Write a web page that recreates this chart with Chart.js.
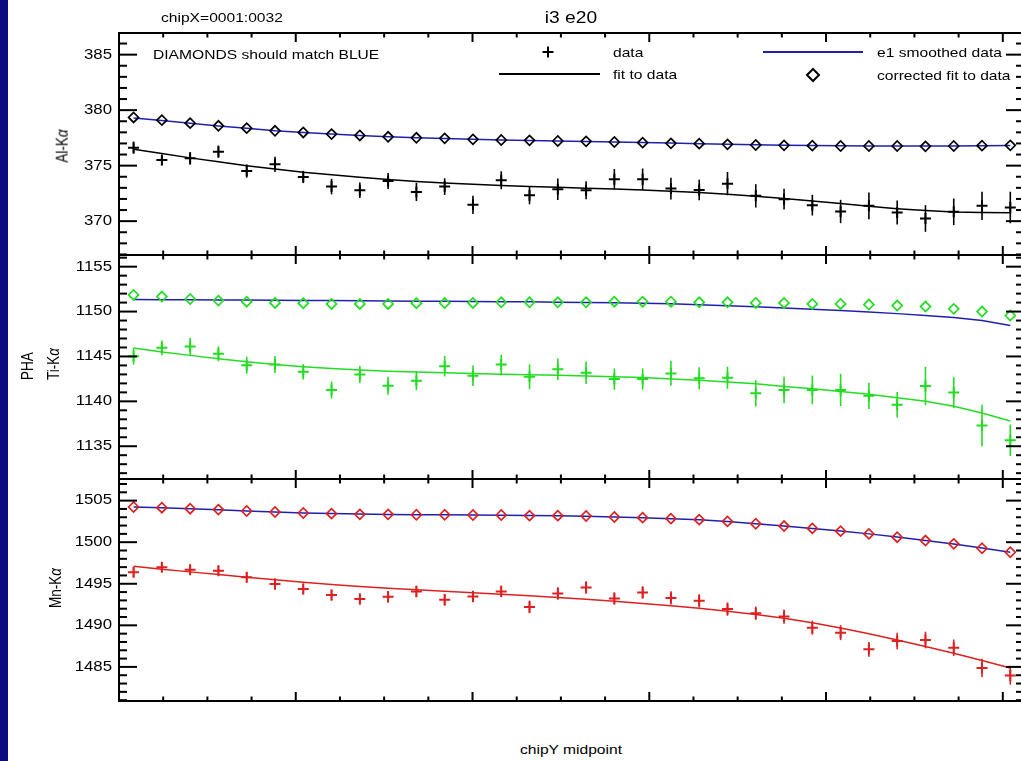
<!DOCTYPE html>
<html>
<head>
<meta charset="utf-8">
<script src="https://cdn.jsdelivr.net/npm/chart.js@4.4.1/dist/chart.umd.min.js"></script>
<style>
  body { margin: 0; background: #fff; }
  #wrap { position: relative; width: 1021px; height: 761px; overflow: hidden; background: #fff;
          font-family: "Liberation Sans", Arial, Helvetica, sans-serif; color: #000; }
  #wrap canvas { position: absolute; left: 0; }
  .band { position: absolute; left: 0; top: 0; width: 8px; height: 761px; background: #0c0c7e; }
  .t { position: absolute; white-space: nowrap; line-height: 1; font-size: 13px;
       transform-origin: left center; transform: translateY(-50%) scaleX(1.2); z-index: 5; }
  .c { transform-origin: center center; transform: translate(-50%, -50%) scaleX(1.2); }
  .v { transform-origin: center center; transform: translate(-50%, -50%) rotate(-90deg) scaleY(1.2);
       font-size: 13.5px; }
</style>
</head>
<body>
<div id="wrap">
  <canvas id="pAl" width="1024" height="242" style="top:23px"></canvas>
  <canvas id="pTi" width="1024" height="244" style="top:245px"></canvas>
  <canvas id="pMn" width="1024" height="242" style="top:469px"></canvas>
  <div class="band"></div>

  <div class="t" style="left:161px; top:17px">chipX=0001:0032</div>
  <div class="t c" style="left:571px; top:18px; font-size:16px">i3 e20</div>
  <div class="t" style="left:153px; top:54px">DIAMONDS should match BLUE</div>
  <div class="t" style="left:613px; top:52px">data</div>
  <div class="t" style="left:613px; top:74px">fit to data</div>
  <div class="t" style="left:877px; top:52px">e1 smoothed data</div>
  <div class="t" style="left:877px; top:75px">corrected fit to data</div>
  <div class="t v" style="left:63px; top:146px">Al-K<i>α</i></div>
  <div class="t v" style="left:28px; top:366px">PHA</div>
  <div class="t v" style="left:54px; top:364px">Ti-K<i>α</i></div>
  <div class="t v" style="left:56px; top:588px">Mn-K<i>α</i></div>
  <div class="t c" style="left:571px; top:749px">chipY midpoint</div>
</div>

<script>
// chipY midpoints of the 32 row bins
const chipY = [16.5, 48.5, 80.5, 112.5, 144.5, 176.5, 208.5, 240.5, 272.5, 304.5, 336.5, 368.5,
  400.5, 432.5, 464.5, 496.5, 528.5, 560.5, 592.5, 624.5, 656.5, 688.5, 720.5, 752.5,
  784.5, 816.5, 848.5, 880.5, 912.5, 944.5, 976.5, 1008.5];

// Al-K alpha
const alData = [376.62, 375.51, 375.66, 376.26, 374.52, 375.12, 373.98, 373.11, 372.78, 373.62, 372.63, 373.11,
  371.47, 373.68, 372.34, 372.87, 372.78, 373.77, 373.77, 372.93, 372.81, 373.38, 372.28, 371.98,
  371.44, 370.87, 371.38, 370.78, 370.24, 370.84, 371.38, 371.23];
const alErr = [0.55, 0.48, 0.57, 0.55, 0.6, 0.69, 0.55, 0.7, 0.7, 0.72, 0.82, 0.75, 0.82, 0.81, 0.82, 0.97,
  0.81, 0.93, 0.97, 0.97, 0.93, 1.05, 1.05, 0.93, 0.93, 1.05, 1.2, 1.08, 1.2, 1.2, 1.27, 1.42];
const alFit = [376.47, 376.1, 375.7, 375.35, 375.0, 374.7, 374.4, 374.18, 373.95, 373.75, 373.58, 373.43,
  373.32, 373.22, 373.13, 373.05, 372.97, 372.89, 372.8, 372.7, 372.58, 372.43, 372.25, 372.05,
  371.82, 371.58, 371.34, 371.12, 370.95, 370.83, 370.77, 370.75];
const alCorr = [379.34, 379.1, 378.83, 378.59, 378.38, 378.14, 377.99, 377.84, 377.72, 377.6, 377.51, 377.46,
  377.37, 377.31, 377.28, 377.22, 377.19, 377.13, 377.07, 377.01, 376.98, 376.92, 376.86, 376.83,
  376.8, 376.77, 376.77, 376.77, 376.74, 376.77, 376.8, 376.83];
const alSmooth = [379.3, 379.07, 378.82, 378.58, 378.37, 378.15, 377.99, 377.85, 377.72, 377.61, 377.52, 377.45,
  377.37, 377.31, 377.27, 377.22, 377.18, 377.13, 377.08, 377.03, 376.98, 376.93, 376.88, 376.84,
  376.81, 376.79, 376.77, 376.76, 376.76, 376.77, 376.79, 376.82];

// Ti-K alpha
const tiData = [1145.01, 1145.96, 1146.11, 1145.3, 1144.02, 1144.1, 1143.29, 1141.27, 1142.99, 1141.74, 1142.3, 1143.91,
  1142.85, 1144.1, 1142.74, 1143.58, 1143.18, 1142.48, 1142.48, 1143.11, 1142.56, 1142.63, 1140.9, 1141.27,
  1141.27, 1141.27, 1140.61, 1139.62, 1141.71, 1140.98, 1137.31, 1135.66];
const tiErr = [0.92, 0.83, 0.97, 0.83, 0.94, 0.95, 0.86, 0.95, 0.95, 1.0, 1.05, 1.14, 1.14, 1.1, 1.38, 1.19,
  1.25, 1.19, 1.19, 1.38, 1.23, 1.23, 1.47, 1.47, 1.6, 1.8, 1.47, 1.43, 2.13, 1.72, 2.3, 1.74];
const tiFit = [1145.93, 1145.5, 1145.12, 1144.75, 1144.4, 1144.1, 1143.85, 1143.65, 1143.48, 1143.36, 1143.27, 1143.18,
  1143.1, 1143.03, 1142.97, 1142.9, 1142.83, 1142.75, 1142.65, 1142.5, 1142.35, 1142.15, 1141.95, 1141.65,
  1141.4, 1141.1, 1140.8, 1140.4, 1140.0, 1139.45, 1138.7, 1137.8];
const tiCorr = [1151.85, 1151.67, 1151.4, 1151.22, 1151.1, 1150.96, 1150.93, 1150.85, 1150.85, 1150.85, 1150.93, 1150.95,
  1150.96, 1151.03, 1151.03, 1151.03, 1151.03, 1151.1, 1151.1, 1151.1, 1151.03, 1151.03, 1150.96, 1150.96,
  1150.85, 1150.85, 1150.78, 1150.67, 1150.56, 1150.3, 1150.0, 1149.56];
const tiSmooth = [1151.33, 1151.32, 1151.31, 1151.3, 1151.28, 1151.26, 1151.24, 1151.22, 1151.2, 1151.18, 1151.16, 1151.14,
  1151.12, 1151.1, 1151.08, 1151.05, 1151.02, 1150.98, 1150.93, 1150.86, 1150.77, 1150.66, 1150.54, 1150.4,
  1150.26, 1150.11, 1149.95, 1149.77, 1149.57, 1149.33, 1149.0, 1148.45];

// Mn-K alpha
const mnData = [1496.37, 1496.98, 1496.7, 1496.58, 1495.77, 1494.97, 1494.37, 1493.64, 1493.16, 1493.43, 1494.08, 1493.07,
  1493.47, 1494.08, 1492.22, 1493.83, 1494.56, 1493.23, 1493.95, 1493.3, 1492.95, 1491.95, 1491.46, 1491.05,
  1489.72, 1489.12, 1487.11, 1488.11, 1488.23, 1487.3, 1484.88, 1483.97];
const mnErr = [0.6, 0.55, 0.6, 0.6, 0.6, 0.65, 0.65, 0.65, 0.65, 0.7, 0.7, 0.7, 0.7, 0.7, 0.75, 0.75,
  0.75, 0.75, 0.75, 0.8, 0.8, 0.8, 0.8, 0.85, 0.85, 0.9, 0.9, 1.0, 1.0, 1.0, 1.1, 1.1];
const mnFit = [1497.1, 1496.76, 1496.43, 1496.1, 1495.78, 1495.47, 1495.18, 1494.91, 1494.67, 1494.46, 1494.27, 1494.09,
  1493.92, 1493.74, 1493.55, 1493.35, 1493.13, 1492.9, 1492.64, 1492.35, 1492.05, 1491.7, 1491.3, 1490.84,
  1490.3, 1489.68, 1488.98, 1488.24, 1487.46, 1486.64, 1485.78, 1484.88];
const mnCorr = [1504.23, 1504.15, 1504.03, 1503.92, 1503.75, 1503.63, 1503.51, 1503.43, 1503.35, 1503.35, 1503.3, 1503.3,
  1503.27, 1503.27, 1503.19, 1503.19, 1503.15, 1503.03, 1502.95, 1502.83, 1502.71, 1502.5, 1502.22, 1501.94,
  1501.66, 1501.33, 1501.0, 1500.6, 1500.2, 1499.8, 1499.27, 1498.79];
const mnSmooth = [1504.22, 1504.14, 1504.03, 1503.91, 1503.76, 1503.63, 1503.52, 1503.44, 1503.38, 1503.34, 1503.31, 1503.29,
  1503.27, 1503.25, 1503.22, 1503.18, 1503.12, 1503.04, 1502.95, 1502.83, 1502.69, 1502.49, 1502.23, 1501.95,
  1501.66, 1501.34, 1501.0, 1500.61, 1500.21, 1499.79, 1499.3, 1498.8];

// y-axis tick labels and ranges of the three panels
const alTicks = [370, 375, 380, 385];
const tiTicks = [1135, 1140, 1145, 1150, 1155];
const mnTicks = [1485, 1490, 1495, 1500, 1505];
const alRange = [366.95, 386.95];
const tiRange = [1131.35, 1156.3];
const mnRange = [1480.9, 1507.6];

const BLUE = '#2020b0';
const PAD = 10;

const pts = (ys) => chipY.map((x, i) => ({ x, y: ys[i] }));

function line(ctx, x1, y1, x2, y2) {
  ctx.beginPath(); ctx.moveTo(x1, y1); ctx.lineTo(x2, y2); ctx.stroke();
}

// box with inward ticks (IDL style) and y tick labels
const frame = {
  id: 'frame',
  afterDraw(chart, args, opts) {
    const { ctx, chartArea: a, scales: { x, y } } = chart;
    ctx.save();
    ctx.strokeStyle = '#000';
    ctx.lineWidth = 2;
    ctx.strokeRect(a.left, a.top, a.right - a.left, a.bottom - a.top);
    for (let v = Math.ceil(y.min); v <= y.max; v++) {
      const py = y.getPixelForValue(v);
      const len = v % 5 === 0 ? 18 : 8;
      line(ctx, a.left, py, a.left + len, py);
      line(ctx, a.right, py, a.right - len, py);
    }
    for (let v = 0; v <= x.max; v += 50) {
      const px = x.getPixelForValue(v);
      const len = v % 200 === 0 ? 9 : 4.5;
      line(ctx, px, a.top, px, a.top + len);
      line(ctx, px, a.bottom, px, a.bottom - len);
    }
    ctx.fillStyle = '#000';
    ctx.font = '14px "Liberation Sans", Arial, sans-serif';
    ctx.textAlign = 'right';
    ctx.textBaseline = 'middle';
    (opts.labels || []).forEach(v => {
      ctx.save();
      ctx.translate(a.left - 7, y.getPixelForValue(v));
      ctx.scale(1.2, 1);
      ctx.fillText(String(v), 0, 0);
      ctx.restore();
    });
    if (opts.legend) {
      const top = a.top - 33;          // page y -> canvas y
      ctx.lineWidth = 2;
      ctx.strokeStyle = '#000';
      line(ctx, 542.5, top + 52, 553.5, top + 52);
      line(ctx, 548, top + 46.5, 548, top + 57.5);
      line(ctx, 499, top + 74, 600, top + 74);
      ctx.strokeStyle = BLUE;
      line(ctx, 763, top + 52, 863, top + 52);
      ctx.strokeStyle = '#000';
      ctx.beginPath();
      ctx.moveTo(807, top + 75); ctx.lineTo(813, top + 69); ctx.lineTo(819, top + 75); ctx.lineTo(813, top + 81);
      ctx.closePath(); ctx.stroke();
    }
    ctx.restore();
  }
};

const errorBars = {
  id: 'errorBars',
  afterDatasetsDraw(chart) {
    const { ctx, scales: { x, y } } = chart;
    chart.data.datasets.forEach(ds => {
      if (!ds.errors) return;
      ctx.save();
      ctx.strokeStyle = ds.borderColor;
      ctx.lineWidth = 1.6;
      ds.data.forEach((p, i) => {
        const px = x.getPixelForValue(p.x);
        line(ctx, px, y.getPixelForValue(p.y - ds.errors[i]), px, y.getPixelForValue(p.y + ds.errors[i]));
      });
      ctx.restore();
    });
  }
};

function panel(id, smooth, corr, fit, data, err, color, range, labels, legend) {
  return new Chart(document.getElementById(id), {
    type: 'line',
    data: {
      datasets: [
        { label: 'e1 smoothed data', data: pts(smooth), borderColor: BLUE, borderWidth: 1.5,
          pointRadius: 0, order: 3 },
        { label: 'corrected fit to data', data: pts(corr), showLine: false, pointStyle: 'rectRot',
          pointRadius: 5, borderColor: color, pointBorderColor: color, backgroundColor: 'rgba(0,0,0,0)',
          pointBackgroundColor: 'rgba(0,0,0,0)', pointBorderWidth: 1.7, order: 1 },
        { label: 'fit to data', data: pts(fit), borderColor: color, borderWidth: 1.5,
          pointRadius: 0, order: 4 },
        { label: 'data', data: pts(data), errors: err, showLine: false, pointStyle: 'cross',
          pointRadius: 5.5, borderColor: color, pointBorderColor: color, pointBorderWidth: 2, order: 2 }
      ]
    },
    options: {
      responsive: false,
      animation: false,
      events: [],
      layout: { autoPadding: false, padding: { left: 119, right: 0, top: PAD, bottom: PAD } },
      plugins: {
        legend: { display: false },
        tooltip: { enabled: false },
        frame: { labels, legend }
      },
      scales: {
        x: { type: 'linear', display: false, min: 0, max: 1024 },
        y: { type: 'linear', display: false, min: range[0], max: range[1] }
      }
    },
    plugins: [errorBars, frame]
  });
}

panel('pAl', alSmooth, alCorr, alFit, alData, alErr, '#000000', alRange, alTicks, true);
panel('pTi', tiSmooth, tiCorr, tiFit, tiData, tiErr, '#22dd22', tiRange, tiTicks, false);
panel('pMn', mnSmooth, mnCorr, mnFit, mnData, mnErr, '#dd2020', mnRange, mnTicks, false);
</script>
</body>
</html>
